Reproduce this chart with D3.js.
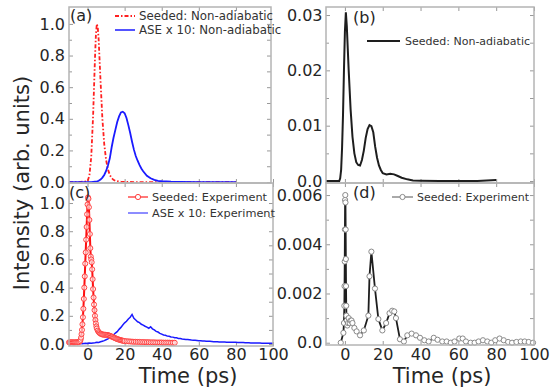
<!DOCTYPE html>
<html><head><meta charset="utf-8">
<script src="https://cdn.jsdelivr.net/npm/d3@7"></script>
<style>body{margin:0;background:#fff}svg{display:block;font-family:"DejaVu Sans",sans-serif}</style>
</head><body>
<script>
// ---- Panel (a): simulation, non-adiabatic ----
const aSeedT = [-10,-5,0,1,2,3,4,4.5,5,5.5,6,7,8,9,10,11,12,13,14,15,16,18,20,25,30,40,50,60,70,80];
const aSeedV = [0,0,0.005,0.04,0.16,0.42,0.78,0.93,1.0,0.98,0.9,0.64,0.4,0.24,0.14,0.08,0.045,0.025,0.014,0.008,0.005,0.002,0.001,0,0,0,0,0,0,0];
const aAseT = [-10,-5,0,2,3,4,5,6,7,8,9,10,11,12,13,14,15,16,17,18,19,20,21,22,23,24,25,26,27,28,29,30,32,34,36,38,40,45,50,60,70,80];
const aAseV = [0,0,0,0,0.001,0.002,0.003,0.008,0.016,0.028,0.045,0.07,0.105,0.15,0.22,0.28,0.33,0.38,0.415,0.44,0.445,0.435,0.405,0.36,0.31,0.255,0.205,0.165,0.135,0.108,0.086,0.068,0.04,0.024,0.014,0.008,0.005,0.002,0.001,0,0,0];
// ---- Panel (b): seeded non-adiabatic ----
const bT = [-10,-5,-3,-2.5,-2,-1.5,-1,-0.5,0,0.5,1,1.5,2,3,4,5,6,7,8,9,10,11,12,13,14,15,16,17,18,19,20,22,24,26,28,30,33,36,40,50,60,70,75,80];
const bV = [0,0,0,0.0005,0.002,0.006,0.012,0.02,0.027,0.0305,0.028,0.024,0.02,0.013,0.008,0.005,0.0034,0.0029,0.0028,0.0038,0.0055,0.0078,0.0094,0.0101,0.0099,0.0088,0.0062,0.0042,0.0028,0.002,0.0014,0.0012,0.0013,0.0012,0.0009,0.0006,0.0003,0.0001,0.00005,0,0,0,0.0001,0.0002];
// ---- Panel (c): experiment ----
const cSeedT = [-10,-9.5,-9,-8.5,-8,-7.5,-7,-6.5,-6,-5.5,-5,-4.5,-4,-3.75,-3.5,-3.25,-3,-2.75,-2.5,-2.25,-2,-1.75,-1.5,-1.25,-1,-0.75,-0.5,-0.25,0,0.25,0.5,0.75,1,1.25,1.5,1.75,2,2.25,2.5,2.75,3,3.25,3.5,3.75,4,4.25,4.5,4.75,5,5.5,6,6.5,7,7.5,8,8.5,9,9.5,10,10.5,11,11.5,12,12.5,13,13.5,14,14.5,15,15.5,16,16.5,17,17.5,18,18.5,19,19.5,20,21,22,23,24,25,26,27,28,29,30,31,32,33,34,35,36,37,38,39,40,41,42,43,44,45,46,47];
const cSeedV = [0.012,0.011,0.012,0.013,0.012,0.011,0.012,0.012,0.013,0.012,0.013,0.015,0.02,0.03,0.045,0.07,0.1,0.14,0.19,0.25,0.32,0.4,0.48,0.57,0.65,0.74,0.83,0.92,0.99,1.04,1.03,0.97,0.88,0.78,0.68,0.62,0.6,0.58,0.53,0.46,0.39,0.33,0.28,0.24,0.2,0.17,0.145,0.125,0.11,0.095,0.085,0.078,0.073,0.07,0.068,0.067,0.066,0.066,0.065,0.064,0.063,0.061,0.059,0.056,0.053,0.05,0.047,0.044,0.041,0.038,0.035,0.033,0.031,0.029,0.027,0.025,0.024,0.022,0.021,0.02,0.019,0.018,0.017,0.016,0.016,0.015,0.015,0.014,0.014,0.013,0.013,0.013,0.012,0.012,0.012,0.011,0.011,0.011,0.011,0.01,0.01,0.01,0.01,0.009,0.009,0.009];
const cAseT = [-5,-4,-3,-2,-1,0,1,2,3,4,5,6,7,8,9,10,11,12,13,14,15,16,17,18,19,20,21,22,23,24,25,26,27,28,29,30,31,32,33,34,35,36,37,38,39,40,41,42,43,44,45,46,47,48,49,50,51,52,53,54,55,56,57,58,59,60,61,62,63,64,65,66,67,68,69,70,71,72,73,74,75,76,77,78,79,80,81,82,83,84,85,86,87,88,89,90,91,92,93,94,95,96,97,98,99,100];
const cAseV = [0.003,0.005,0.002,0.004,0.006,0.004,
 0.007,0.005,0.008,0.009,0.012,0.011,0.016,0.02,0.024,0.03,
 0.036,0.045,0.052,0.064,0.078,0.088,0.104,0.118,0.135,0.15,
 0.162,0.178,0.19,0.21,0.182,0.17,0.158,0.152,0.14,0.134,
 0.126,0.12,0.112,0.122,0.108,0.1,0.09,0.085,0.076,0.07,
 0.064,0.062,0.056,0.055,0.05,0.049,0.044,0.044,0.04,0.039,
 0.035,0.034,0.032,0.032,0.03,0.028,0.027,0.026,0.025,0.024,
 0.023,0.022,0.021,0.02,0.02,0.019,0.018,0.017,0.017,0.016,
 0.015,0.015,0.014,0.014,0.013,0.013,0.012,0.012,0.012,0.012,
 0.011,0.011,0.01,0.01,0.009,0.009,0.009,0.008,0.008,0.008,
 0.007,0.007,0.007,0.006,0.006,0.006,0.006,0.005,0.005,0.005];
// ---- Panel (d): seeded experiment ----
const dT = [-2.2,-0.8,-0.5,-0.3,-0.2,-0.1,0,0.1,0.2,0.3,0.4,0.5,0.6,0.7,0.8,1,1.3,1.6,2,2.5,3,3.5,4,5,6.2,8,10,12.4,13,14,15.9,17.7,19.8,21.8,23.6,25,26.1,27,29.1,31.2,33,35.3,37.6,39.7,42,44.3,47,49,51.5,53.8,56,58,60.5,62.3,64,66.5,68.6,70.7,73,75.3,77.4,79.5,81.8,84,86.3,88.4,90.7,93,95.1,97.2,99.5];
const dV = [0,0.0004,0.0008,0.0015,0.0023,0.0033,0.0046,0.0058,0.006,0.0057,0.0046,0.0034,0.0023,0.0015,0.0011,0.0009,0.0007,0.0008,0.001,0.0008,0.0009,0.0009,0.0008,0.0006,0.00046,0.0003,0.0005,0.0011,0.0027,0.0037,0.0022,0.00096,0.0005,0.0008,0.0012,0.0013,0.00127,0.001,0.00014,0.00005,0.0003,0.00037,0.0003,0.0002,0.0001,0.00005,0.0002,0.00012,0.00005,0.00005,0,0.00005,0.00017,0.00017,0.00005,0,0,0.00005,0.0001,0.00005,0,0.0001,0.00017,0.0001,0.00003,0,0.00003,0.00005,0.00005,0.00003,0];
// ---- ticks ----
const xTicks = [0,20,40,60,80,100];
const yTicksA = [0,0.2,0.4,0.6,0.8,1.0];
const yMinorA = [0.1,0.3,0.5,0.7,0.9];
const yTicksB = [0,0.01,0.02,0.03];
const yMinorB = [0.005,0.015,0.025];
const yTicksD = [0,0.002,0.004,0.006];
const yMinorD = [0.001,0.003,0.005];

const W = 553, H = 390;
const svg = d3.select("body").append("svg").attr("width", W).attr("height", H);
const TXT = "#262626", FR = "#b4b4b4", TK = "#999";

function panel(o) {
  const x = d3.scaleLinear().domain([-10, 100]).range([o.xr0, o.xr1]);
  const y = d3.scaleLinear().domain(o.yd).range([o.y1, o.y0]);
  const g = svg.append("g");
  // ticks inward on all sides
  const addAx = (ax, tr) => {
    const a = g.append("g").attr("transform", tr).call(ax);
    a.select(".domain").remove();
    a.selectAll(".tick line").attr("stroke", TK);
    a.selectAll(".tick text").attr("fill", TXT).style("font-size", "16px").style("font-family", "DejaVu Sans");
    return a;
  };
  addAx(d3.axisLeft(y).tickValues(o.yt).tickFormat(o.fmt).tickSize(-4).tickPadding(o.ypad), `translate(${o.x0},0)`);
  addAx(d3.axisLeft(y).tickValues(o.ym).tickFormat("").tickSize(-3), `translate(${o.x0},0)`);
  addAx(d3.axisRight(y).tickValues(o.yt.concat(o.ym)).tickFormat("").tickSize(-4), `translate(${o.x1},0)`);
  addAx(d3.axisTop(x).tickValues(xTicks.filter(v => x(v) <= o.x1)).tickFormat("").tickSize(-4), `translate(0,${o.y0})`);
  addAx(d3.axisBottom(x).tickValues(xTicks).tickFormat(o.xlab ? d3.format("d") : "").tickSize(-4).tickPadding(o.xpad), `translate(0,${o.y1})`);
  return {x, y, g};
}

function drawLine(p, T, V, style) {
  const line = d3.line().x(d => p.x(d[0])).y(d => p.y(d[1]));
  const path = p.g.append("path").datum(d3.zip(T, V)).attr("d", line).attr("fill", "none");
  Object.entries(style).forEach(([k, v]) => path.attr(k, v));
  return path;
}
function drawFrame(o) {
  svg.append("rect").attr("x", o.x0).attr("y", o.y0).attr("width", o.x1 - o.x0).attr("height", o.y1 - o.y0)
    .attr("fill", "none").attr("stroke", FR).attr("stroke-width", 1.5);
}
function label(t, x, y, size, anchor) {
  return svg.append("text").attr("x", x).attr("y", y).attr("fill", TXT).style("font-size", size + "px")
    .attr("text-anchor", anchor || "start").text(t);
}

// Panel a
const oA = {x0: 69, x1: 271, xr0: 69, xr1: 273, y0: 7, y1: 183, yd: [-0.006, 1.107], yt: yTicksA, ym: yMinorA, fmt: d3.format(".1f"), ypad: 4, xlab: false, xpad: 3};
const pA = panel(oA);
drawLine(pA, aSeedT, aSeedV, {stroke: "#ff2020", "stroke-width": 1.8, "stroke-dasharray": "4,2,1.5,2"});
drawLine(pA, aAseT, aAseV, {stroke: "#1a1aff", "stroke-width": 1.8});
drawFrame(oA);

// Panel b
const oB = {x0: 326, x1: 534, xr0: 326, xr1: 534, y0: 7, y1: 183, yd: [-0.00036, 0.03145], yt: yTicksB, ym: yMinorB, fmt: v => v === 0 ? "0.0" : d3.format(".2f")(v), ypad: 3.5, xlab: false, xpad: 3};
const pB = panel(oB);
drawLine(pB, bT, bV, {stroke: "#1e1e1e", "stroke-width": 2});
drawFrame(oB);

// Panel c
const oC = {x0: 69, x1: 273, xr0: 69, xr1: 273, y0: 183, y1: 346, yd: [-0.014, 1.142], yt: yTicksA, ym: yMinorA, fmt: d3.format(".1f"), ypad: 4, xlab: true, xpad: 2.6};
const pC = panel(oC);
drawLine(pC, cAseT, cAseV, {stroke: "#1a1aff", "stroke-width": 1.5});
drawLine(pC, cSeedT, cSeedV, {stroke: "#ff1010", "stroke-width": 2});
pC.g.append("g").selectAll("circle").data(d3.zip(cSeedT, cSeedV)).join("circle")
  .attr("cx", d => pC.x(d[0])).attr("cy", d => pC.y(d[1])).attr("r", 2.5)
  .attr("fill", "#fff").attr("fill-opacity", 0.6).attr("stroke", "#ff4040").attr("stroke-width", 1);
drawFrame(oC);

// Panel d
const oD = {x0: 326, x1: 534, xr0: 326, xr1: 534, y0: 183, y1: 345, yd: [-0.000093, 0.00649], yt: yTicksD, ym: yMinorD, fmt: v => v === 0 ? "0.0" : d3.format(".3f")(v), ypad: 3.5, xlab: true, xpad: 3.6};
const pD = panel(oD);
drawLine(pD, dT, dV, {stroke: "#1e1e1e", "stroke-width": 1.8});
pD.g.append("g").selectAll("circle").data(d3.zip(dT, dV)).join("circle")
  .attr("cx", d => pD.x(d[0])).attr("cy", d => pD.y(d[1])).attr("r", 2.6)
  .attr("fill", "#fff").attr("stroke", "#8a8a8a").attr("stroke-width", 1);
drawFrame(oD);

// panel letters
label("(a)", 70, 21, 16);
label("(b)", 353, 23, 16);
label("(c)", 69, 198, 16);
label("(d)", 353, 198, 16);

// legends
const lg = svg.append("g");
function legLine(x1, x2, y, style, circ) {
  const l = lg.append("line").attr("x1", x1).attr("x2", x2).attr("y1", y).attr("y2", y);
  Object.entries(style).forEach(([k, v]) => l.attr(k, v));
  if (circ) lg.append("circle").attr("cx", (x1 + x2) / 2).attr("cy", y).attr("r", 2.6).attr("fill", "#fff").attr("stroke", circ).attr("stroke-width", 1);
}
function legText(t, x, y, size) {
  lg.append("text").attr("x", x).attr("y", y).attr("dy", "0.36em").attr("fill", "#333").style("font-size", size + "px").text(t);
}
legLine(115, 135, 16, {stroke: "#ff2020", "stroke-width": 1.8, "stroke-dasharray": "4,2,1.5,2"});
legText("Seeded: Non-adiabatic", 139, 16, 11.8);
legLine(115, 135, 30, {stroke: "#1a1aff", "stroke-width": 1.5});
legText("ASE x 10: Non-adiabatic", 139, 30, 11.8);

legLine(367, 400, 41, {stroke: "#1e1e1e", "stroke-width": 2});
legText("Seeded: Non-adiabatic", 405, 41, 11);

legLine(128, 148, 197, {stroke: "#ff2020", "stroke-width": 1.2}, "#ff4040");
legText("Seeded: Experiment", 152, 197, 11.3);
legLine(128, 148, 213, {stroke: "#1a1aff", "stroke-width": 1});
legText("ASE x 10: Experiment", 152, 213, 11.3);

legLine(392, 413, 197, {stroke: "#555", "stroke-width": 1}, "#8a8a8a");
legText("Seeded: Experiment", 417, 197, 11);

// axis titles
label("Time (ps)", 188, 383, 21, "middle");
label("Time (ps)", 442, 383, 21, "middle");
svg.append("text").attr("transform", "translate(29,183) rotate(-90)").attr("text-anchor", "middle")
  .attr("fill", TXT).style("font-size", "21px").text("Intensity (arb. units)");
</script>
</body></html>
